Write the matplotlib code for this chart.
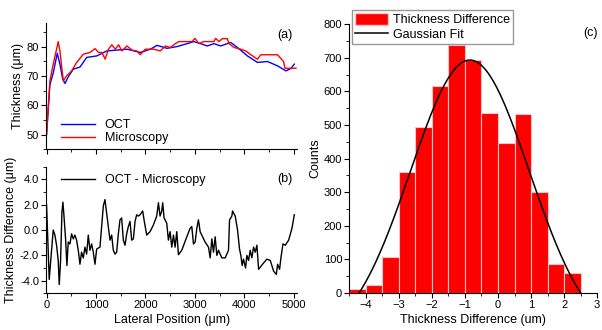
import numpy as np
import matplotlib
matplotlib.use("Agg")
import matplotlib.pyplot as plt
from matplotlib.ticker import MultipleLocator
from matplotlib.patches import Patch
from matplotlib.lines import Line2D

plt.rcParams['font.family'] = ['Liberation Sans', 'DejaVu Sans']
plt.rcParams['font.size'] = 8

# (a) thickness profiles, lateral position in um
oct_x = [0, 68, 135, 217, 271, 325, 373, 440, 542, 677, 813, 1016, 1219, 1423, 1626, 1897, 2101, 2236, 2439,
         2642, 2846, 2981, 3117, 3252, 3388, 3523, 3726, 3862, 4065, 4268, 4471, 4675, 4844, 4945, 5013]
oct_y = [50, 67, 71, 77.7, 74, 69, 67.4, 69.7, 72.3, 73, 76.3, 76.8, 78.5, 78.8, 79.1, 78, 79.1, 80.4, 79.4,
         80, 81, 81.7, 81, 80.2, 81, 80.2, 81.4, 79.7, 76.8, 74.6, 74.9, 73.4, 71.7, 72.5, 74]

mic_x = [0, 68, 135, 237, 271, 339, 406, 508, 610, 745, 880, 982, 1050, 1118, 1186, 1253, 1321, 1389, 1457,
         1524, 1626, 1728, 1829, 1897, 1999, 2168, 2304, 2405, 2507, 2609, 2677, 2948, 3002, 3083, 3184, 3388,
         3422, 3489, 3557, 3659, 3692, 3794, 3930, 4031, 4133, 4268, 4336, 4675, 4797, 4824, 5047]
mic_y = [50, 68.3, 74, 81.7, 78.5, 68.3, 70, 71.7, 74.6, 77.4, 78, 79.3, 78, 78, 75.7, 79.1, 80.6, 79.1, 80.6,
         78.5, 80.2, 78.8, 78.5, 77.2, 79.1, 79.1, 78.5, 80.2, 79.7, 81, 81.7, 81.7, 82.8, 81, 81.7, 81.7,
         82.8, 81.7, 82.7, 82.7, 81, 79.7, 79.1, 78.5, 77.2, 75.7, 77.2, 77.2, 74.9, 72.6, 72.6]

# (b) OCT - Microscopy
diff_x = [0, 54, 101, 135, 169, 203, 236, 257, 284, 311,
          331, 351, 385, 412, 439, 473, 507, 541, 574, 608,
          642, 676, 709, 743, 777, 811, 845, 878, 912, 946,
          980, 1014, 1081, 1115, 1149, 1182, 1216, 1250, 1284, 1318,
          1351, 1385, 1419, 1453, 1486, 1520, 1554, 1588, 1622, 1655,
          1689, 1723, 1757, 1791, 1824, 1858, 1892, 1946, 1973, 2027,
          2095, 2162, 2230, 2264, 2297, 2331, 2351, 2378, 2432, 2466,
          2500, 2534, 2568, 2601, 2635, 2669, 2736, 2838, 2905, 2939,
          2973, 3007, 3041, 3074, 3108, 3142, 3209, 3277, 3311, 3345,
          3378, 3412, 3446, 3480, 3547, 3615, 3682, 3703, 3750, 3764,
          3818, 3865, 3905, 3932, 3959, 3986, 4027, 4054, 4088, 4122,
          4155, 4189, 4223, 4257, 4291, 4392, 4459, 4527, 4595, 4649,
          4676, 4716, 4743, 4784, 4831, 4899, 4966, 5014]
diff_y = [2.0, -3.9, -1.6, 0, -0.4, -1.2, -2.4, -4.3, -2.4, 1.35,
          2.2, 1.2, -0.7, -2.8, -0.95, -1.1, -0.3, -0.7, -0.4, -0.8,
          -1.6, -2.7, -1.75, -2.2, -1.35, -1.9, -0.4, -1.6, -1.1, -1.75,
          -2.7, -1.5, -1.35, 0.27, 1.9, 2.4, 1.35, 0.27, -0.8, -0.4,
          -1.6, -1.9, -1.75, -0.3, 0.8, 0.95, -0.8, -1.2, -0.3, 0.27,
          0.68, -0.8, -0.7, 0.68, 1.2, 1.1, 1.2, 1.5, 0.8, -0.4,
          -0.13, 0.4, 1.1, 2.15, 1.1, 1.5, 2.15, 0.95, 0.54, -0.8,
          -0.13, -1.35, -0.4, -1.35, -0.13, -1.95, -1.6, -0.54, 0.13, 0.27,
          -1.1, -0.95, 0.13, 0.8, -0.13, -0.4, -0.95, -1.35, -2.2, -0.7,
          -1.75, -0.54, -2.0, -1.6, -2.2, -2.2, -1.6, 0.8, 1.1, 1.5,
          1.1, 0, -1.5, -2.0, -2.8, -2.3, -3.0, -2.0, -2.4, -1.6,
          -2.2, -1.35, -1.75, -1.2, -3.1, -2.6, -2.3, -2.4, -3.25, -3.5,
          -2.7, -3.1, -2.2, -1.1, -1.2, -0.8, 0.13, 1.2]

# (c) histogram of thickness difference
bin_left = [-4.5, -4.0, -3.5, -3.0, -2.5, -2.0, -1.5, -1.0, -0.5, 0.0, 0.5, 1.0, 1.5, 2.0]
counts = [12, 25, 107, 360, 493, 617, 738, 693, 537, 447, 532, 300, 87, 60]
bin_width = 0.5

# Gaussian fit parameters (offset, amplitude, centre, sigma)
fit_y0, fit_A, fit_xc, fit_s = -149, 842, -0.85, 1.8

fig = plt.figure(figsize=(6.02, 3.30), dpi=100)
ax1 = fig.add_axes([0.0765, 0.548, 0.417, 0.382])
ax2 = fig.add_axes([0.0765, 0.111, 0.417, 0.384])
ax3 = fig.add_axes([0.580, 0.112, 0.412, 0.815])

for ax in (ax1, ax2, ax3):
    ax.spines['top'].set_visible(False)
    ax.spines['right'].set_visible(False)
    ax.tick_params(which='both', direction='out', labelsize=8, pad=1.5)
    ax.tick_params(which='major', length=3.5)
    ax.tick_params(which='minor', length=2)

ax1.plot(oct_x, oct_y, color='blue', lw=1, label='OCT')
ax1.plot(mic_x, mic_y, color='red', lw=1, label='Microscopy')
ax1.set_xlim(-10, 5070)
ax1.set_ylim(45, 88)
ax1.xaxis.set_major_locator(MultipleLocator(1000))
ax1.xaxis.set_minor_locator(MultipleLocator(500))
ax1.yaxis.set_major_locator(MultipleLocator(10))
ax1.yaxis.set_minor_locator(MultipleLocator(5))
ax1.set_xticklabels([])
ax1.set_ylabel('Thickness (μm)', fontsize=9, labelpad=2)
ax1.legend(loc='lower left', frameon=False, fontsize=9, handlelength=2.7,
           borderaxespad=0.2, labelspacing=0.1, bbox_to_anchor=(0.03, -0.02))
ax1.text(0.95, 0.88, '(a)', transform=ax1.transAxes, ha='center', fontsize=9)

ax2.plot(diff_x, diff_y, color='black', lw=1, label='OCT - Microscopy')
ax2.set_xlim(-10, 5070)
ax2.set_ylim(-5, 5)
ax2.xaxis.set_major_locator(MultipleLocator(1000))
ax2.xaxis.set_minor_locator(MultipleLocator(500))
ax2.yaxis.set_major_locator(MultipleLocator(2))
ax2.yaxis.set_minor_locator(MultipleLocator(1))
ax2.yaxis.set_major_formatter(lambda v, p: f'{v:.1f}')
ax2.set_xlabel('Lateral Position (μm)', fontsize=9, labelpad=3)
ax2.set_ylabel('Thickness Difference (μm)', fontsize=9, labelpad=2)
ax2.legend(loc='upper left', frameon=False, fontsize=9, handlelength=2.7,
           borderaxespad=0.2, bbox_to_anchor=(0.03, 1.0))
ax2.text(0.95, 0.88, '(b)', transform=ax2.transAxes, ha='center', fontsize=9)

ax3.bar(bin_left, counts, width=bin_width, align='edge', color='red',
        edgecolor='#ffc4c4', linewidth=0.8)
fit_x = np.linspace(-4.2, 2.5, 200)
fit_curve = fit_y0 + fit_A * np.exp(-(fit_x - fit_xc) ** 2 / (2 * fit_s ** 2))
ax3.plot(fit_x, np.clip(fit_curve, 0, None), color='black', lw=1.1)
ax3.set_xlim(-4.5, 3)
ax3.set_ylim(0, 800)
ax3.xaxis.set_major_locator(MultipleLocator(1))
ax3.xaxis.set_minor_locator(MultipleLocator(0.5))
ax3.yaxis.set_major_locator(MultipleLocator(100))
ax3.yaxis.set_minor_locator(MultipleLocator(50))
ax3.set_xlabel('Thickness Difference (um)', fontsize=9, labelpad=3)
ax3.set_ylabel('Counts', fontsize=9, labelpad=2)
ax3.text(591, 330 - 33, '(c)', transform=None, ha='center', va='center', fontsize=9)
handles = [Patch(facecolor='red', edgecolor='#ffc4c4'),
           Line2D([], [], color='black', lw=1.1)]
fig.legend(handles, ['Thickness Difference', 'Gaussian Fit'], loc='upper left',
           bbox_to_anchor=(352 / 602, 1 - 10 / 330), fontsize=9, fancybox=False,
           edgecolor='#999999', framealpha=1, borderpad=0.25, handlelength=2.6,
           handleheight=1.1, labelspacing=0.1, borderaxespad=0, handletextpad=0.4)

fig.savefig('out.png', dpi=100)
